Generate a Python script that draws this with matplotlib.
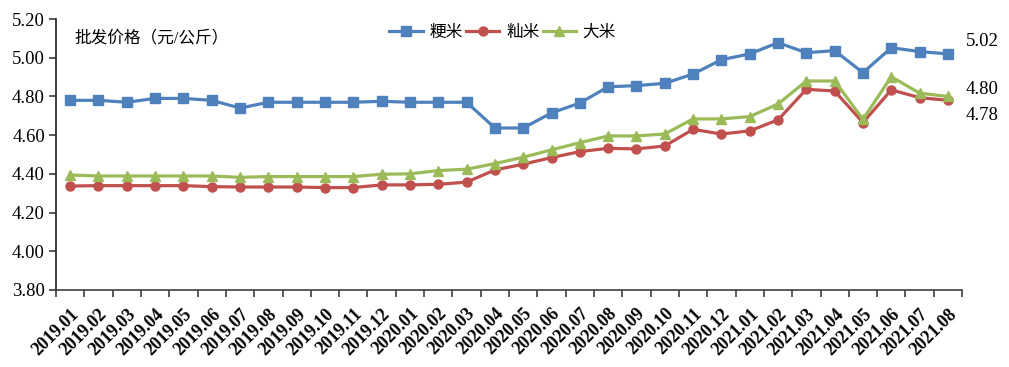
import matplotlib
matplotlib.use("Agg")
import matplotlib.pyplot as plt

plt.rcParams['font.family'] = ['Liberation Serif', 'Noto Sans CJK SC', 'DejaVu Sans']

# 月份
months = ['2019.01', '2019.02', '2019.03', '2019.04', '2019.05', '2019.06', '2019.07', '2019.08',
          '2019.09', '2019.10', '2019.11', '2019.12', '2020.01', '2020.02', '2020.03', '2020.04',
          '2020.05', '2020.06', '2020.07', '2020.08', '2020.09', '2020.10', '2020.11', '2020.12',
          '2021.01', '2021.02', '2021.03', '2021.04', '2021.05', '2021.06', '2021.07', '2021.08']

# 批发价格（元/公斤）
japonica = [4.78, 4.78, 4.77, 4.79, 4.79, 4.78, 4.74, 4.77, 4.77, 4.77, 4.77, 4.775,
            4.77, 4.77, 4.77, 4.637, 4.637, 4.715, 4.766, 4.85, 4.856, 4.868, 4.916, 4.99,
            5.02, 5.078, 5.026, 5.037, 4.923, 5.052, 5.032, 5.02]
indica = [4.337, 4.339, 4.339, 4.339, 4.339, 4.334, 4.332, 4.332, 4.332, 4.329, 4.329, 4.343,
          4.343, 4.346, 4.357, 4.42, 4.45, 4.484, 4.515, 4.532, 4.529, 4.544, 4.63, 4.606,
          4.622, 4.679, 4.837, 4.828, 4.665, 4.834, 4.794, 4.78]
rice = [4.394, 4.389, 4.389, 4.389, 4.389, 4.389, 4.382, 4.386, 4.386, 4.386, 4.386, 4.398,
        4.40, 4.417, 4.424, 4.453, 4.486, 4.524, 4.561, 4.596, 4.596, 4.606, 4.684, 4.684,
        4.696, 4.761, 4.88, 4.88, 4.682, 4.902, 4.817, 4.80]

fig = plt.figure(figsize=(10.09, 3.67), dpi=100)
ax = fig.add_axes([0.0555, 0.21, 0.898, 0.738])

x = list(range(len(months)))
ax.plot(x, japonica, color='#4F81BD', lw=2.3, marker='s', ms=6.5, label='粳米')
ax.plot(x, indica, color='#C0504D', lw=2.3, marker='o', ms=6.5, label='籼米')
ax.plot(x, rice, color='#9BBB59', lw=2.3, marker='^', ms=7, label='大米')

ax.set_xlim(-0.5, len(months) - 0.5)
ax.set_ylim(3.8, 5.2)
ax.set_yticks([3.8 + 0.2 * i for i in range(8)])
ax.set_yticklabels([f'{3.8 + 0.2 * i:.2f}' for i in range(8)], fontsize=13.5)

ax.set_xticks([i - 0.5 for i in range(len(months) + 1)])
ax.set_xticklabels([])
ax.set_xticks(x, minor=True)
ax.set_xticklabels(months, minor=True, rotation=45, ha='right', va='top',
                   rotation_mode='anchor', fontsize=13, fontweight='bold')
ax.tick_params(axis='x', which='minor', length=0, pad=11)
ax.tick_params(axis='x', which='major', length=5, width=1.2, direction='out', color='#404040')
ax.tick_params(axis='y', length=5, width=1.2, direction='out', color='#404040', pad=3)

ax.spines['top'].set_visible(False)
ax.spines['right'].set_visible(False)
ax.spines['left'].set_color('#202020')
ax.spines['bottom'].set_color('#404040')
ax.spines['left'].set_linewidth(1.2)
ax.spines['bottom'].set_linewidth(1.2)

ax.text(0.02, 0.96, '批发价格（元/公斤）', transform=ax.transAxes, fontsize=12, va='top')

ax.legend(loc='upper center', bbox_to_anchor=(0.493, 1.035), ncol=3, frameon=False,
          fontsize=12, handlelength=2.0, columnspacing=0.2, handletextpad=0.4)

# 期末数值标注
last = len(months) - 1
for vals, dy in [(japonica, 9), (rice, 5), (indica, -11)]:
    ax.annotate(f'{vals[-1]:.2f}', xy=(last, vals[-1]), xytext=(13, dy),
                textcoords='offset points', fontsize=13.5, va='center', annotation_clip=False)

fig.savefig('out.png', dpi=100)
